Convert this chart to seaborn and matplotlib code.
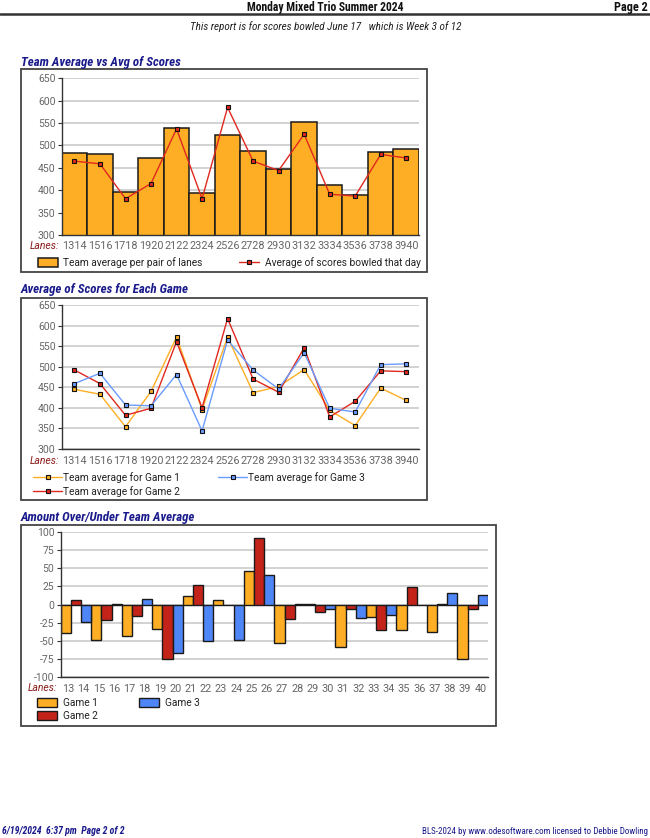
import matplotlib
matplotlib.use("Agg")
import matplotlib.pyplot as plt
from matplotlib import font_manager as fm
from matplotlib.patches import Rectangle
from matplotlib.lines import Line2D
import numpy as np
import pandas as pd
import seaborn as sns

# ---- data ----
lane_pairs = ["1314", "1516", "1718", "1920", "2122", "2324", "2526",
              "2728", "2930", "3132", "3334", "3536", "3738", "3940"]
lanes = ["13", "14", "15", "16", "17", "18", "19", "20", "21", "22",
         "23", "24", "25", "26", "27", "28", "29", "30", "31", "32",
         "33", "34", "35", "36", "37", "38", "39", "40"]

team_avg = [484, 480, 397, 473, 540, 393, 524, 488, 448, 552, 412, 389, 486, 491]
day_avg = [465, 459, 381, 415, 537, 381, 585, 465, 444, 525, 391, 387, 480, 472]

game1_avg = [445, 433, 354, 440, 572, 396, 572, 437, 452, 493, 394, 357, 448, 418]
game2_avg = [492, 459, 382, 399, 561, 400, 617, 470, 438, 546, 378, 416, 490, 488]
game3_avg = [459, 484, 407, 405, 481, 344, 565, 492, 446, 534, 399, 390, 505, 507]

game1_diff = [-39, -49, -43, -34, 12, 6, 47, -54, 1, -59, -17, -35, -38, -75]
game2_diff = [6, -22, -16, -75, 27, 0, 92, -20, -10, -6, -35, 24, 1, -6]
game3_diff = [-24, 1, 7, -67, -51, -49, 41, 1, -6, -19, -14, -1, 16, 13]

ORANGE = "#FDAE24"
RED_LINE = "#E0281E"
RED = "#C4231A"
BLUE_LINE = "#6A9BFF"
BLUE = "#4F86F7"
NAVY = "#1A1A8C"
GRID = "#D2D2D2"
TICK = "#666666"
LANES_C = "#8B1A1A"

sns.set_style("white")
plt.rcParams["font.family"] = ["Roboto", "DejaVu Sans"]
plt.rcParams["axes.unicode_minus"] = False

# report headings use a narrow face; fall back to a smaller regular one
installed = {f.name for f in fm.fontManager.ttflist}
NARROW, NS = ["Liberation Sans", "DejaVu Sans"], 0.8
for cand in ["Liberation Sans Narrow", "Arial Narrow", "Roboto Condensed",
             "Noto Sans Condensed", "Open Sans Condensed"]:
    if cand in installed:
        NARROW, NS = [cand, "DejaVu Sans"], 1.0
        break

W, H = 650, 838
fig = plt.figure(figsize=(W / 100, H / 100), dpi=100)


def rect(x0, y0, x1, y1):
    return [x0 / W, 1 - y1 / H, (x1 - x0) / W, (y1 - y0) / H]


def fpt(x, y):
    return (x / W, 1 - y / H)


def frame(x0, y0, x1, y1):
    fig.add_artist(Rectangle(fpt(x0, y1), (x1 - x0) / W, (y1 - y0) / H,
                             transform=fig.transFigure, fill=False,
                             edgecolor="#444444", lw=1.3))


def style_axis(ax, yticks, ylim):
    ax.set_ylim(*ylim)
    ax.set_yticks(yticks)
    ax.yaxis.grid(True, color=GRID, lw=1.4)
    ax.set_axisbelow(True)
    for s in ["top", "right"]:
        ax.spines[s].set_visible(False)
    for s in ["left", "bottom"]:
        ax.spines[s].set_color("#333333")
        ax.spines[s].set_linewidth(1.0)
    ax.tick_params(axis="y", labelsize=7.5, labelcolor=TICK, length=3,
                   color="#333333", pad=1.5, left=True)
    ax.set_xlabel("")
    ax.set_ylabel("")


LEG_FS = 7.3

# ---- header / footer ----
fig.text(*fpt(325, 7), "Monday Mixed Trio Summer 2024", ha="center", va="center",
         family=NARROW, weight="bold", fontsize=8.4 * NS, color="#111111")
fig.text(*fpt(648, 7), "Page 2", ha="right", va="center",
         family=NARROW, weight="bold", fontsize=8.8 * NS, color="#111111")
fig.add_artist(Line2D([0, 1], [1 - 14 / H] * 2, transform=fig.transFigure,
                      color="#333333", lw=1.8))
fig.text(*fpt(326, 27), "This report is for scores bowled June 17   which is Week 3 of 12",
         ha="center", va="center", family=NARROW, style="italic", fontsize=8.0 * NS,
         color="#222222")
fig.text(*fpt(2, 831), "6/19/2024  6:37 pm  Page 2 of 2", ha="left", va="center",
         family=NARROW, style="italic", weight="bold", fontsize=7 * NS, color=NAVY)
fig.text(*fpt(648, 831), "BLS-2024 by www.odesoftware.com licensed to Debbie Dowling",
         ha="right", va="center", family=NARROW, fontsize=6.5 * NS, color=NAVY)

titles = [("Team Average vs Avg of Scores", 62.5),
          ("Average of Scores for Each Game", 289.5),
          ("Amount Over/Under Team Average", 517.5)]
for t, y in titles:
    fig.text(*fpt(21, y), t, ha="left", va="center", family=NARROW,
             style="italic", weight="bold", fontsize=9.3 * NS, color=NAVY)

n = len(lane_pairs)

# ---- chart 1: team average bars + day average line ----
frame(21, 69, 427, 272)
ax1 = fig.add_axes(rect(61.7, 78.3, 419, 235))
df1 = pd.DataFrame({"pair": lane_pairs, "team": team_avg, "day": day_avg})
sns.barplot(data=df1, x="pair", y="team", color=ORANGE, saturation=1, width=1.0,
            edgecolor="#1a1a1a", linewidth=1.1, label="Team average per pair of lanes",
            ax=ax1)
sns.pointplot(data=df1, x="pair", y="day", color=RED_LINE, markers="s",
              markersize=3.4, linewidth=1.0, markeredgecolor="#111111",
              markeredgewidth=0.8, label="Average of scores bowled that day", ax=ax1)
style_axis(ax1, range(300, 651, 50), (300, 650))
ax1.set_xlim(-0.5, n - 0.5)
ax1.set_xticks(np.arange(n) + 0.5, labels=[])
ax1.set_xticks(np.arange(n), labels=lane_pairs, minor=True)
ax1.tick_params(axis="x", which="major", length=4, color="#333333", direction="out")
ax1.tick_params(axis="x", which="minor", length=0, labelsize=7.8, labelcolor=TICK, pad=4)
fig.text(*fpt(59.5, 246), "Lanes:", ha="right", va="center", style="italic",
         fontsize=7.5, color=LANES_C)
h1, l1 = ax1.get_legend_handles_labels()
order = [l1.index("Team average per pair of lanes"),
         l1.index("Average of scores bowled that day")]
ax1.legend([h1[i] for i in order], [l1[i] for i in order],
           loc="upper left", bbox_to_anchor=fpt(38, 257), bbox_transform=fig.transFigure,
           ncol=2, frameon=False, fontsize=LEG_FS, borderpad=0, borderaxespad=0,
           handlelength=1.95, handleheight=1.0, handletextpad=0.55, columnspacing=3.6,
           labelcolor="#222222")

# ---- chart 2: per-game averages ----
frame(21, 298, 427, 500)
ax2 = fig.add_axes(rect(61.7, 305, 419, 449))
games_long = ["Team average for Game 1", "Team average for Game 2", "Team average for Game 3"]
df2 = pd.DataFrame({
    "pair": lane_pairs * 3,
    "score": game1_avg + game2_avg + game3_avg,
    "game": [games_long[0]] * n + [games_long[1]] * n + [games_long[2]] * n,
})
sns.pointplot(data=df2, x="pair", y="score", hue="game", hue_order=games_long,
              palette=[ORANGE, RED_LINE, BLUE_LINE], markers="s", markersize=3.4,
              linewidth=1.0, markeredgecolor="#111111", markeredgewidth=0.8,
              dodge=False, ax=ax2)
style_axis(ax2, range(300, 651, 50), (300, 650))
ax2.set_xlim(-0.5, n - 0.5)
ax2.set_xticks(np.arange(n) + 0.5, labels=[])
ax2.set_xticks(np.arange(n), labels=lane_pairs, minor=True)
ax2.tick_params(axis="x", which="major", length=4, color="#333333", direction="inout")
ax2.tick_params(axis="x", which="minor", length=0, labelsize=7.8, labelcolor=TICK, pad=5)
fig.text(*fpt(59.5, 461), "Lanes:", ha="right", va="center", style="italic",
         fontsize=7.5, color=LANES_C)
sns.move_legend(ax2, loc="upper left", bbox_to_anchor=fpt(33, 472),
                bbox_transform=fig.transFigure, ncol=2, title=None, frameon=False,
                fontsize=LEG_FS, borderpad=0, borderaxespad=0, handlelength=2.9,
                handletextpad=0.1, columnspacing=3.7, labelspacing=0.27,
                labelcolor="#222222")

# ---- chart 3: over/under bars ----
frame(21, 525, 496, 726)
ax3 = fig.add_axes(rect(60.7, 532.3, 488, 676.7))
games_short = ["Game 1", "Game 2", "Game 3"]
df3 = pd.DataFrame({
    "pair": lane_pairs * 3,
    "diff": game1_diff + game2_diff + game3_diff,
    "game": [games_short[0]] * n + [games_short[1]] * n + [games_short[2]] * n,
})
sns.barplot(data=df3, x="pair", y="diff", hue="game", hue_order=games_short,
            palette=[ORANGE, RED, BLUE], saturation=1, width=1.0, gap=0,
            edgecolor="#1a1a1a", linewidth=1.0, ax=ax3)
style_axis(ax3, range(-100, 101, 25), (-100, 100))
ax3.set_xlim(-0.5, n - 0.5)
ax3.set_xticks(np.arange(n) + 0.5, labels=[])
lane_pos = np.ravel(np.column_stack([np.arange(n) - 0.25, np.arange(n) + 0.25]))
ax3.set_xticks(lane_pos, labels=lanes, minor=True)
ax3.tick_params(axis="x", which="major", length=5, color="#333333", direction="inout")
ax3.tick_params(axis="x", which="minor", length=0, labelsize=7.8, labelcolor=TICK, pad=5)
fig.text(*fpt(57.5, 688), "Lanes:", ha="right", va="center", style="italic",
         fontsize=7.5, color=LANES_C)
sns.move_legend(ax3, loc="upper left", bbox_to_anchor=fpt(37, 698),
                bbox_transform=fig.transFigure, ncol=2, title=None, frameon=False,
                fontsize=LEG_FS, borderpad=0, borderaxespad=0, handlelength=1.95,
                handleheight=1.0, handletextpad=0.6, columnspacing=4.1,
                labelspacing=0.3, labelcolor="#222222")

fig.savefig("out.png", dpi=100)
